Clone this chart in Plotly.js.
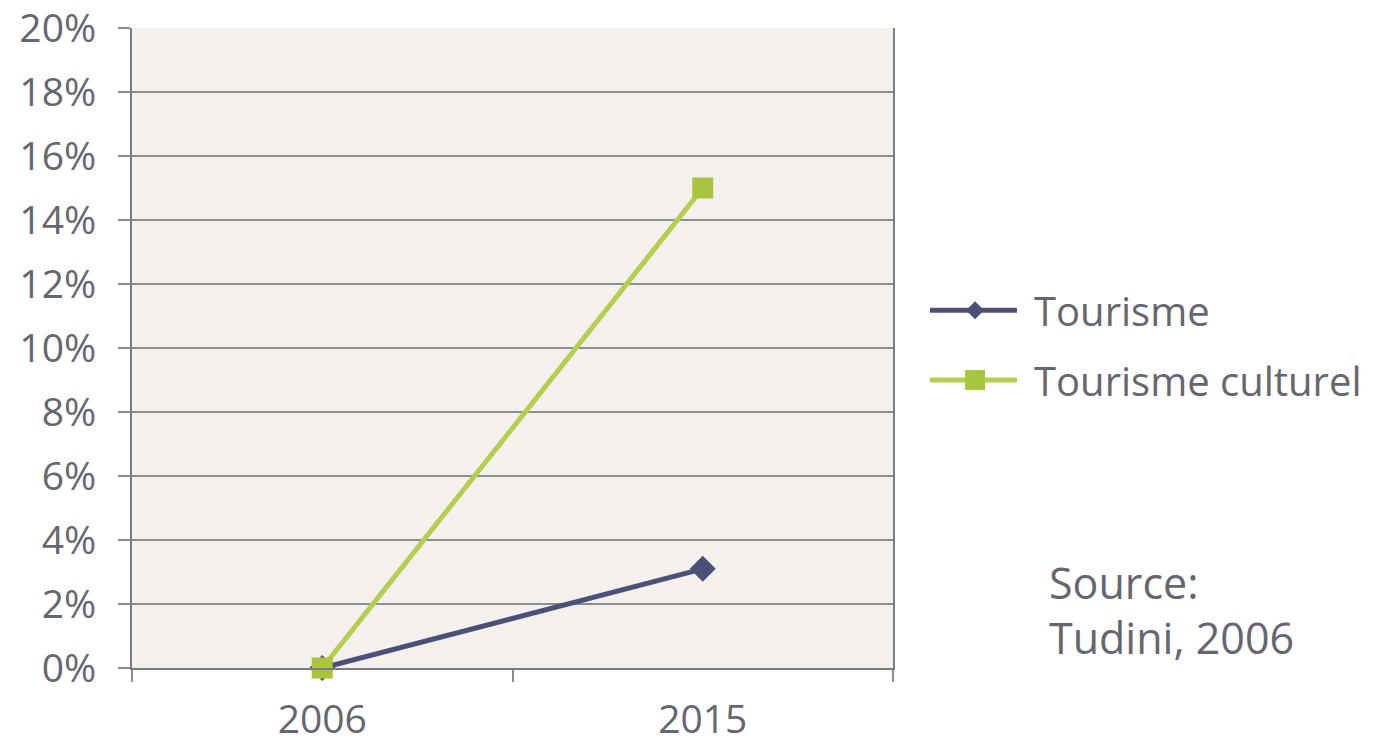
<!DOCTYPE html>
<html>
<head>
<meta charset="utf-8">
<script src="https://cdn.plot.ly/plotly-3.0.1.min.js"></script>
<style>
html,body{margin:0;padding:0;background:#ffffff;}
#chart{width:1375px;height:752px;}
</style>
</head>
<body>
<div id="chart"></div>
<script>
// Data
const years = ['2006', '2015'];
const tourisme = [0, 3.1];
const tourismeCulturel = [0, 15];
const seriesNames = ['Tourisme', 'Tourisme culturel'];
const yTickVals = [0, 2, 4, 6, 8, 10, 12, 14, 16, 18, 20];
const yTickText = ['0%', '2%', '4%', '6%', '8%', '10%', '12%', '14%', '16%', '18%', '20%'];
const sourceLines = ['Source:', 'Tudini, 2006'];

const FONT = 'Open Sans, DejaVu Sans, sans-serif';
const TXT = '#66666f';
const C1 = '#4b5078';
const C2 = '#b6ce4e';
const C2m = '#aac43e';

const traces = [
  {
    x: years, y: tourisme, name: seriesNames[0], type: 'scatter', mode: 'lines+markers',
    line: {color: C1, width: 5},
    marker: {symbol: 'diamond', size: 20, color: C1},
    showlegend: false, hoverinfo: 'skip', cliponaxis: false
  },
  {
    x: years, y: tourismeCulturel, name: seriesNames[1], type: 'scatter', mode: 'lines+markers',
    line: {color: C2, width: 5},
    marker: {symbol: 'square', size: 21, color: C2m},
    showlegend: false, hoverinfo: 'skip', cliponaxis: false
  }
];

// Custom legend (paper coords)
const legY = [0.559, 0.45];
const legSym = ['diamond', 'square'];
const legCol = [C1, C2];
const legMark = [C1, C2m];
const shapes = [];
const annotations = [];
for (let i = 0; i < 2; i++) {
  shapes.push({type: 'line', xref: 'paper', yref: 'paper', x0: 1.0486, x1: 1.1629, y0: legY[i], y1: legY[i],
    line: {color: legCol[i], width: 5}});
  if (legSym[i] === 'diamond') {
    shapes.push({type: 'path', xref: 'paper', yref: 'paper', xsizemode: 'pixel', ysizemode: 'pixel',
      xanchor: 1.1078, yanchor: legY[i], path: 'M0,9 L9,0 L0,-9 L-9,0 Z',
      fillcolor: legMark[i], line: {width: 0}});
  } else {
    shapes.push({type: 'path', xref: 'paper', yref: 'paper', xsizemode: 'pixel', ysizemode: 'pixel',
      xanchor: 1.1078, yanchor: legY[i], path: 'M-10,-10 L10,-10 L10,10 L-10,10 Z',
      fillcolor: legMark[i], line: {width: 0}});
  }
  annotations.push({xref: 'paper', yref: 'paper', x: 1.1827, y: legY[i], xanchor: 'left', yanchor: 'middle',
    text: seriesNames[i], showarrow: false, font: {family: FONT, size: 40, color: TXT}});
}
annotations.push({xref: 'paper', yref: 'paper', x: 1.2021, y: 0.134, xanchor: 'left', yanchor: 'middle',
  text: sourceLines[0], showarrow: false, font: {family: FONT, size: 43, color: TXT}});
annotations.push({xref: 'paper', yref: 'paper', x: 1.2021, y: 0.048, xanchor: 'left', yanchor: 'middle',
  text: sourceLines[1], showarrow: false, font: {family: FONT, size: 43, color: TXT}});

const layout = {
  width: 1375, height: 752,
  margin: {l: 132, r: 482, t: 28, b: 84},
  paper_bgcolor: '#ffffff',
  plot_bgcolor: '#f4f0ed',
  showlegend: false,
  font: {family: FONT, color: TXT, size: 39},
  xaxis: {
    type: 'category', tickson: 'boundaries', range: [-0.5, 1.5],
    ticks: 'outside', ticklen: 12, tickcolor: '#8a8a90', tickwidth: 2,
    showgrid: false, zeroline: false,
    showline: true, linecolor: '#7a7a80', linewidth: 2,
    tickfont: {family: FONT, size: 39, color: TXT},
    ticklabelstandoff: 16,
    ticklabeloverflow: 'allow',
    fixedrange: true
  },
  yaxis: {
    range: [0, 20], tickvals: yTickVals, ticktext: yTickText,
    ticks: 'outside', ticklen: 12, tickcolor: '#8a8a90', tickwidth: 2,
    showgrid: true, gridcolor: '#8c8c8c', gridwidth: 1.5,
    zeroline: false,
    showline: true, mirror: true, linecolor: '#7d7d85', linewidth: 2,
    tickfont: {family: FONT, size: 39, color: TXT},
    ticklabelstandoff: 14,
    ticklabeloverflow: 'allow',
    fixedrange: true
  },
  shapes: shapes,
  annotations: annotations
};

Plotly.newPlot('chart', traces, layout, {displayModeBar: false, staticPlot: true});
</script>
</body>
</html>
